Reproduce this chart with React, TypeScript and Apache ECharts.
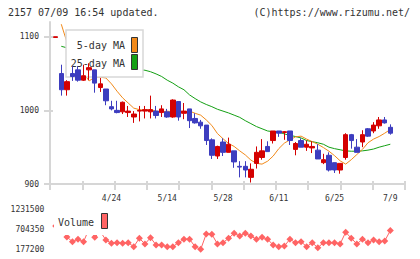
import { useEffect, useRef } from "react";
import * as echarts from "echarts";

// Trading days shown on the chart
const dates = [
  "4/10", "4/11", "4/12", "4/15", "4/16", "4/17", "4/18", "4/19", "4/22", "4/23",
  "4/24", "4/25", "4/26", "4/30", "5/1", "5/2", "5/7", "5/8", "5/9", "5/10",
  "5/14", "5/15", "5/16", "5/17", "5/20", "5/21", "5/22", "5/23", "5/24", "5/27",
  "5/28", "5/29", "5/30", "5/31", "6/3", "6/4", "6/5", "6/6", "6/7", "6/10",
  "6/11", "6/12", "6/13", "6/14", "6/17", "6/18", "6/19", "6/20", "6/21", "6/24",
  "6/25", "6/26", "6/27", "6/28", "7/1", "7/2", "7/3", "7/4", "7/5", "7/8",
  "7/9",
];
const labelDates = ["4/24", "5/14", "5/28", "6/11", "6/25", "7/9"];

const openP = [
  1099, 1050, 1028, 1050, 1055, 1041, 1055, 1055, 1031, 1029,
  1005, 1000, 998, 997, 991, 999, 999, 998, 999, 997,
  998, 991, 1012, 996, 1002, 989, 984, 980, 960, 938,
  957, 943, 945, 924, 924, 909, 928, 936, 951, 959,
  972, 970, 972, 947, 959, 950, 949, 946, 929, 939,
  929, 919, 936, 967, 950, 957, 975, 972, 979, 987,
  977,
];
const closeP = [
  1100, 1028, 1039, 1046, 1041, 1047, 1058, 1037, 1036, 1013,
  1002, 997, 1011, 999, 995, 1000, 1001, 1001, 993, 1002,
  991, 1014, 991, 999, 986, 983, 979, 959, 939, 951,
  943, 954, 930, 923, 919, 920, 943, 945, 944, 972,
  969, 971, 959, 955, 950, 954, 951, 934, 933, 919,
  919, 928, 967, 959, 943, 967, 965, 980, 987, 983,
  969,
];
const lowP = [
  1099, 1020, 1020, 1040, 1039, 1040, 1041, 1024, 1025, 1007,
  1000, 996, 995, 991, 983, 985, 989, 989, 989, 991,
  990, 990, 986, 988, 976, 982, 975, 953, 934, 934,
  938, 943, 922, 909, 909, 902, 921, 933, 944, 955,
  964, 960, 953, 939, 950, 945, 942, 934, 927, 917,
  915, 914, 933, 948, 943, 950, 964, 969, 975, 982,
  967,
];
const highP = [
  1100, 1062, 1041, 1060, 1060, 1062, 1064, 1055, 1044, 1029,
  1013, 1013, 1012, 1006, 999, 1006, 1006, 1020, 1006, 1007,
  1002, 1015, 1012, 1010, 1002, 996, 987, 980, 962, 952,
  962, 963, 945, 931, 931, 928, 951, 961, 958, 972,
  972, 972, 972, 957, 962, 959, 958, 954, 941, 943,
  929, 928, 969, 968, 961, 973, 976, 984, 991, 991,
  981,
];

const ma5 = [
  null, 1117, 1093, 1072, 1058, 1050, 1040, 1045, 1045, 1044,
  1036, 1026, 1017, 1010, 1003, 1001, 1000, 1001, 999, 998,
  999, 998, 1000, 998, 999, 996, 993.5, 987, 979.5, 968.5,
  961.5, 955, 951, 945, 939.5, 932.5, 928, 927, 931, 938,
  948, 955.5, 960, 964, 965, 961, 957.5, 954, 949.5, 944.5,
  938.5, 931.5, 927, 933, 940, 947, 956, 961, 964.5, 969,
  974,
];
const ma25 = [
  null, 1087, 1085, 1083, 1081, 1078, 1076, 1073, 1071, 1068,
  1066, 1063, 1061, 1059, 1057, 1055, 1054.5, 1052.5, 1049.5, 1046,
  1041, 1037, 1032, 1028, 1021, 1016, 1011.5, 1008, 1005, 1001.5,
  999, 996.5, 993.5, 990.5, 986, 982, 978, 975, 972, 971,
  970.5, 968, 966, 964.5, 962.5, 959, 957.5, 956, 954, 950,
  948, 946.5, 945, 944.5, 944.5, 945, 946, 947.5, 950, 952,
  954,
];

const volume = [
  790000, 850000, 497000, 372000, 436000, 372000, 720000, 489000, 640000, 417000,
  329000, 345000, 329000, 345000, 239000, 463000, 311000, 479000, 284000, 284000,
  239000, 239000, 345000, 436000, 436000, 239000, 169000, 578000, 570000, 311000,
  345000, 463000, 596000, 524000, 596000, 524000, 436000, 490000, 436000, 284000,
  239000, 257000, 436000, 345000, 372000, 239000, 345000, 212000, 345000, 345000,
  345000, 311000, 623000, 463000, 311000, 436000, 345000, 417000, 372000, 391000,
  666000,
];

const priceMin = 900;
const priceMax = 1120;
const priceTicks = [900, 1000, 1100];
const volumeTicks = [177200, 704350, 1231500];

const MONO = "DejaVu Sans Mono";
const AXIS_GREY = "#d6d6d6";
const TEXT = "#333333";
const UP = "#d40000";
const DOWN = "#3d3dbf";
const MA5_COLOR = "#f28a1a";
const MA25_COLOR = "#14a014";
const VOL_COLOR = "#ff6464";

function buildOption(): echarts.EChartsOption {
  const candles = dates.map((_, i) => [openP[i], closeP[i], lowP[i], highP[i]]);
  const volStep = volumeTicks[1] - volumeTicks[0];
  const plotTop = 22;
  const plotH = 162;
  const candleLeft = 52.91;
  const candleRight = 26.91;
  const plain = (v: number) => String(v);

  return {
    animation: false,
    grid: [
      { left: 50, right: 15, top: plotTop, height: plotH },
      { left: candleLeft, right: candleRight, top: plotTop, height: plotH },
      { left: candleLeft, right: candleRight, top: 209.3, height: 39.7 },
    ],
    xAxis: [
      {
        gridIndex: 0, type: "value", min: 0, max: 11, interval: 1, position: "bottom",
        axisLine: { show: true, lineStyle: { color: AXIS_GREY, width: 2 } },
        axisTick: { show: true, length: 6, lineStyle: { color: AXIS_GREY, width: 2 } },
        axisLabel: { show: false }, splitLine: { show: false },
      },
      {
        gridIndex: 0, type: "value", min: 0, max: 11, interval: 1, position: "bottom",
        axisLine: { show: false },
        axisTick: { show: true, inside: true, length: 3, lineStyle: { color: AXIS_GREY, width: 2 } },
        axisLabel: { show: false }, splitLine: { show: false },
      },
      {
        gridIndex: 1, type: "category", data: dates, boundaryGap: true,
        axisLine: { show: false }, axisTick: { show: false }, splitLine: { show: false },
        axisLabel: {
          show: true,
          interval: (_i: number, v: string) => labelDates.includes(v),
          margin: 10, fontSize: 8, fontFamily: MONO, color: TEXT,
        },
      },
      { gridIndex: 2, type: "category", data: dates, boundaryGap: true, show: false },
    ],
    yAxis: [
      {
        gridIndex: 0, type: "value", min: priceMin, max: priceMax, position: "left",
        axisLine: { show: true, lineStyle: { color: AXIS_GREY, width: 2 } },
        axisTick: { show: true, length: 6, customValues: priceTicks, lineStyle: { color: AXIS_GREY, width: 2 } },
        axisLabel: { margin: 11, fontSize: 8, fontFamily: MONO, color: TEXT, customValues: priceTicks, formatter: plain },
        splitLine: { show: false },
      },
      {
        gridIndex: 0, type: "value", min: priceMin, max: priceMax, position: "left",
        axisLine: { show: false },
        axisTick: { show: true, inside: true, length: 3, customValues: priceTicks, lineStyle: { color: AXIS_GREY, width: 2 } },
        axisLabel: { show: false }, splitLine: { show: false },
      },
      { gridIndex: 1, type: "value", min: priceMin, max: priceMax, show: false },
      {
        gridIndex: 2, type: "value", min: volumeTicks[0], max: volumeTicks[2], interval: volStep,
        axisLine: { show: false }, axisTick: { show: false }, splitLine: { show: false },
        axisLabel: { margin: 8.6, fontSize: 8, fontFamily: MONO, color: TEXT, formatter: plain },
      },
    ],
    series: [
      {
        name: "25-day MA", type: "line", xAxisIndex: 2, yAxisIndex: 2, data: ma25,
        showSymbol: false, symbol: "none", z: 2,
        lineStyle: { color: MA25_COLOR, width: 1 },
      },
      {
        name: "5-day MA", type: "line", xAxisIndex: 2, yAxisIndex: 2, data: ma5,
        showSymbol: false, symbol: "none", z: 2,
        lineStyle: { color: MA5_COLOR, width: 1 },
      },
      {
        name: "price", type: "candlestick", xAxisIndex: 2, yAxisIndex: 2, data: candles,
        barWidth: 5, z: 10,
        itemStyle: { color: UP, color0: DOWN, borderColor: UP, borderColor0: DOWN, borderWidth: 1 },
      },
      {
        name: "Volume", type: "line", xAxisIndex: 3, yAxisIndex: 3, data: volume,
        symbol: "diamond", symbolSize: 7, showSymbol: true, showAllSymbol: true, clip: false, z: 2,
        itemStyle: { color: VOL_COLOR },
        lineStyle: { color: VOL_COLOR, width: 1 },
      },
    ],
    graphic: [
      {
        type: "text", z: 20,
        style: { text: "2157 07/09 16:54 updated.", x: 8, y: 12.5, font: `10px "${MONO}"`, fill: TEXT, textAlign: "left", textVerticalAlign: "middle" },
      },
      {
        type: "text", z: 20,
        style: { text: "(C)https://www.rizumu.net/", x: 410, y: 12.5, font: `10px "${MONO}"`, fill: TEXT, textAlign: "right", textVerticalAlign: "middle" },
      },
      // moving-average legend box
      {
        type: "rect", z: 5,
        shape: { x: 66, y: 30, width: 77, height: 47 },
        style: { fill: "#ffffff", stroke: "#d8d8d8", lineWidth: 1.5 },
      },
      {
        type: "text", z: 6,
        style: { text: "5-day MA", x: 125, y: 45.5, font: `10px "${MONO}"`, fill: TEXT, textAlign: "right", textVerticalAlign: "middle" },
      },
      {
        type: "text", z: 6,
        style: { text: "25-day MA", x: 125, y: 63.5, font: `10px "${MONO}"`, fill: TEXT, textAlign: "right", textVerticalAlign: "middle" },
      },
      {
        type: "rect", z: 6,
        shape: { x: 131.5, y: 37.5, width: 6, height: 15 },
        style: { fill: MA5_COLOR, stroke: "#333333", lineWidth: 1 },
      },
      {
        type: "rect", z: 6,
        shape: { x: 131.5, y: 54.5, width: 6, height: 15 },
        style: { fill: MA25_COLOR, stroke: "#333333", lineWidth: 1 },
      },
      // volume legend box
      {
        type: "rect", z: 5,
        shape: { x: 54, y: 205, width: 58, height: 30 },
        style: { fill: "#ffffff" },
      },
      {
        type: "text", z: 6,
        style: { text: "Volume", x: 58, y: 222, font: `10px "${MONO}"`, fill: TEXT, textAlign: "left", textVerticalAlign: "middle" },
      },
      {
        type: "rect", z: 6,
        shape: { x: 101.5, y: 213.5, width: 6, height: 15 },
        style: { fill: VOL_COLOR, stroke: "#333333", lineWidth: 1 },
      },
    ],
  } as echarts.EChartsOption;
}

export default function App() {
  const ref = useRef<HTMLDivElement>(null);
  useEffect(() => {
    document.body.style.margin = "0";
    if (!ref.current) return;
    const chart = echarts.init(ref.current, null, { renderer: "svg" });
    chart.setOption(buildOption());
    return () => chart.dispose();
  }, []);
  return <div ref={ref} style={{ width: 420, height: 259, background: "#ffffff" }} />;
}
